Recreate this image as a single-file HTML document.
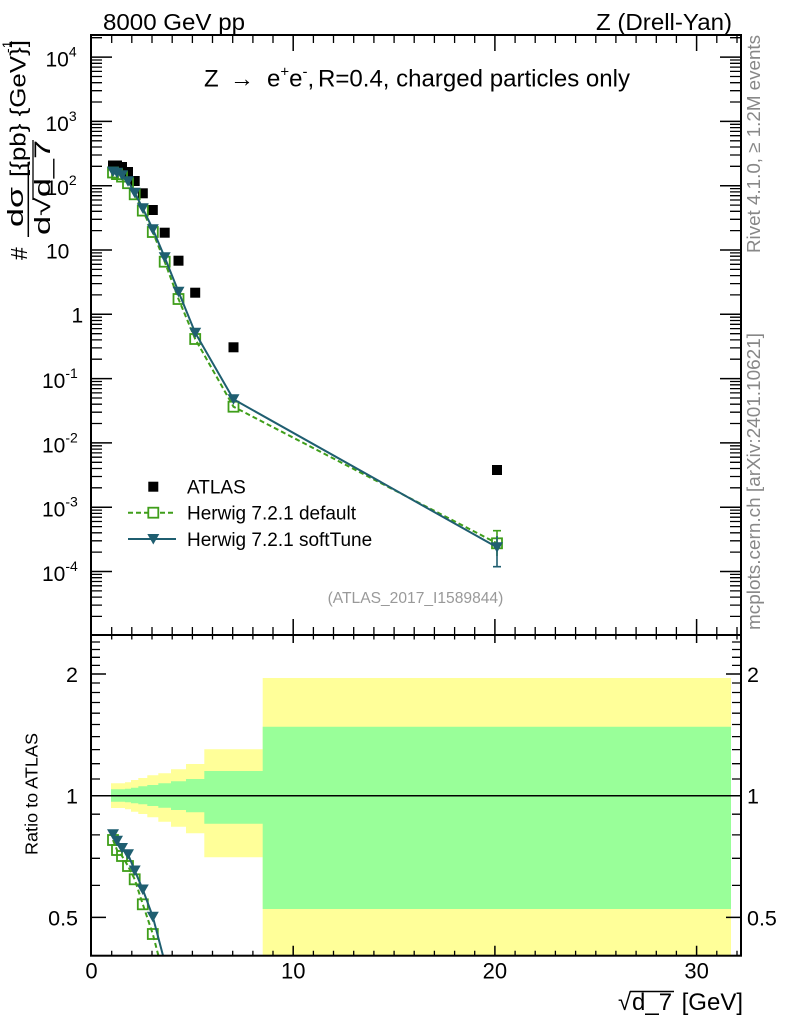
<!DOCTYPE html>
<html><head><meta charset="utf-8"><style>
html,body{margin:0;padding:0;background:#fff;}
svg{display:block;font-family:"Liberation Sans",Arial,sans-serif;}
</style></head><body>
<svg width="786" height="1024" viewBox="0 0 786 1024" xmlns="http://www.w3.org/2000/svg">
<defs>
<clipPath id="cm"><rect x="91" y="35" width="650" height="600"/></clipPath>
<clipPath id="cr"><rect x="91" y="635" width="650" height="320.7"/></clipPath>
</defs>
<rect width="786" height="1024" fill="#fff"/>

<!-- top labels -->
<text x="103" y="30" font-size="23" textLength="142" lengthAdjust="spacingAndGlyphs">8000 GeV pp</text>
<text x="596" y="30" font-size="23" textLength="136" lengthAdjust="spacingAndGlyphs">Z (Drell-Yan)</text>

<!-- title in plot -->
<text x="204" y="86.7" font-size="24">Z</text>
<text x="230" y="86.7" font-size="24">→</text>
<text x="267" y="86.7" font-size="24">e<tspan font-size="15" dy="-10">+</tspan><tspan font-size="24" dy="10">e</tspan><tspan font-size="15" dy="-10">-</tspan><tspan font-size="24" dy="10">,</tspan></text>
<text x="318" y="86.7" font-size="24" textLength="312" lengthAdjust="spacingAndGlyphs">R=0.4, charged particles only</text>

<!-- ratio bands -->
<path fill="#ffff99" d="M111 783.3 H125 V782.3 H131 V780 H138.3 V778 H147.3 V775.3 H158.3 V773.3 H171 V769.3 H186 V764 H204.3 V749.3 H262.7 V678 H731 V955.7 H262.7 V857.3 H204.3 V833.3 H186 V826.7 H171 V821.7 H158.3 V817.3 H147.3 V814 H138.3 V811.7 H131 V809.3 H125 V808 H111 Z"/>
<path fill="#99ff99" d="M111 789.3 H125 V788.7 H131 V787.7 H138.3 V786.3 H147.3 V785 H158.3 V783.3 H171 V781.3 H186 V779 H204.3 V771 H262.7 V726.7 H731 V909 H262.7 V823.7 H204.3 V812.3 H186 V810 H171 V807.7 H158.3 V806 H147.3 V804.3 H138.3 V803.3 H131 V802.3 H125 V801.7 H111 Z"/>
<path d="M91 795.7 H741" stroke="#000" stroke-width="1.5"/>

<!-- main plot data -->
<g clip-path="url(#cm)">
<g fill="#000">
<rect x="108" y="160.5" width="10" height="10"/>
<rect x="112" y="160.5" width="10" height="10"/>
<rect x="117" y="162" width="10" height="10"/>
<rect x="123" y="167" width="10" height="10"/>
<rect x="129.7" y="176" width="10" height="10"/>
<rect x="137.8" y="188.3" width="10" height="10"/>
<rect x="147.8" y="205" width="10" height="10"/>
<rect x="159.7" y="227.7" width="10" height="10"/>
<rect x="173.5" y="255.7" width="10" height="10"/>
<rect x="190.2" y="287.7" width="10" height="10"/>
<rect x="228.5" y="342.3" width="10" height="10"/>
<rect x="492" y="465" width="10" height="10"/>
</g>
<!-- default -->
<polyline fill="none" stroke="#3f9e1a" stroke-width="2" stroke-dasharray="5,3" points="113,172.5 117,174.1 122,176.6 128,183.2 134.7,194.3 142.8,210.6 152.8,232 164.7,261.7 178.5,299 195.2,339 233.5,406.7 497,543.3"/>
<path d="M497 530.7 V556 M493 530.7 H501" stroke="#3f9e1a" stroke-width="1.6"/>
<g fill="none" stroke="#3f9e1a" stroke-width="1.8">
<rect x="108" y="167.5" width="10" height="10"/>
<rect x="112" y="169.1" width="10" height="10"/>
<rect x="117" y="171.6" width="10" height="10"/>
<rect x="123" y="178.2" width="10" height="10"/>
<rect x="129.7" y="189.3" width="10" height="10"/>
<rect x="137.8" y="205.6" width="10" height="10"/>
<rect x="147.8" y="227" width="10" height="10"/>
<rect x="159.7" y="256.7" width="10" height="10"/>
<rect x="173.5" y="294" width="10" height="10"/>
<rect x="190.2" y="334" width="10" height="10"/>
<rect x="228.5" y="401.7" width="10" height="10"/>
<rect x="492" y="538.3" width="10" height="10"/>
</g>
<!-- softTune -->
<polyline fill="none" stroke="#1f5e70" stroke-width="2" points="113,171.6 117,172.7 122,175.3 128,181.3 134.7,192.8 142.8,208.3 152.8,229.2 164.7,257.3 178.5,291.7 195.2,332.7 233.5,399.3 497,547.3"/>
<path d="M497 536 V566.7 M493 566.7 H501" stroke="#1f5e70" stroke-width="1.6"/>
<g fill="#1f5e70">
<polygon points="107,166.6 119,166.6 113,177.1"/>
<polygon points="111,167.7 123,167.7 117,178.2"/>
<polygon points="116,170.3 128,170.3 122,180.8"/>
<polygon points="122,176.3 134,176.3 128,186.8"/>
<polygon points="128.7,187.8 140.7,187.8 134.7,198.3"/>
<polygon points="136.8,203.3 148.8,203.3 142.8,213.8"/>
<polygon points="146.8,224.2 158.8,224.2 152.8,234.7"/>
<polygon points="158.7,252.3 170.7,252.3 164.7,262.8"/>
<polygon points="172.5,286.7 184.5,286.7 178.5,297.2"/>
<polygon points="189.2,327.7 201.2,327.7 195.2,338.2"/>
<polygon points="227.5,394.3 239.5,394.3 233.5,404.8"/>
<polygon points="491,542.3 503,542.3 497,552.8"/>
</g>
</g>

<!-- ratio data -->
<g clip-path="url(#cr)">
<polyline fill="none" stroke="#3f9e1a" stroke-width="2" stroke-dasharray="5,3" points="113,840 117,850 122,856 128,866 134.7,879.3 142.8,904.3 152.8,934 164.7,980"/>
<g fill="none" stroke="#3f9e1a" stroke-width="1.8">
<rect x="108" y="835" width="10" height="10"/>
<rect x="112" y="845" width="10" height="10"/>
<rect x="117" y="851" width="10" height="10"/>
<rect x="123" y="861" width="10" height="10"/>
<rect x="129.7" y="874.3" width="10" height="10"/>
<rect x="137.8" y="899.3" width="10" height="10"/>
<rect x="147.8" y="929" width="10" height="10"/>
</g>
<polyline fill="none" stroke="#1f5e70" stroke-width="2" points="113,834.3 117,840.7 122,848 128,854.3 134.7,870.5 142.8,889.5 152.8,916.7 164.7,962"/>
<g fill="#1f5e70">
<polygon points="107,829.3 119,829.3 113,839.8"/>
<polygon points="111,835.7 123,835.7 117,846.2"/>
<polygon points="116,843 128,843 122,853.5"/>
<polygon points="122,849.3 134,849.3 128,859.8"/>
<polygon points="128.7,865.5 140.7,865.5 134.7,876"/>
<polygon points="136.8,884.5 148.8,884.5 142.8,895"/>
<polygon points="146.8,911.7 158.8,911.7 152.8,922.2"/>
</g>
</g>

<!-- legend -->
<rect x="148.3" y="481.7" width="10" height="10" fill="#000"/>
<text x="187" y="493.5" font-size="19">ATLAS</text>
<path d="M128 512.7 H176" stroke="#3f9e1a" stroke-width="2" stroke-dasharray="5,3"/>
<rect x="148.3" y="507.7" width="10" height="10" fill="#fff" stroke="#3f9e1a" stroke-width="1.8"/>
<text x="187" y="519.5" font-size="19">Herwig 7.2.1 default</text>
<path d="M128 539 H176" stroke="#1f5e70" stroke-width="2"/>
<polygon points="147.3,534 159.3,534 153.3,544.5" fill="#1f5e70"/>
<text x="187" y="546" font-size="19">Herwig 7.2.1 softTune</text>
<text x="503.3" y="603" font-size="15.6" fill="#999" text-anchor="end">(ATLAS_2017_I1589844)</text>

<!-- frames -->
<rect x="91" y="35" width="650" height="600" fill="none" stroke="#000" stroke-width="2"/>
<rect x="91" y="635" width="650" height="320.7" fill="none" stroke="#000" stroke-width="2"/>

<!-- main y ticks -->
<path stroke="#000" stroke-width="1.5" fill="none" d="M91 57.1h21M91 121.4h21M91 185.7h21M91 250h21M91 314.3h21M91 378.6h21M91 442.9h21M91 507.2h21M91 571.5h21
M741 57.1h-21M741 121.4h-21M741 185.7h-21M741 250h-21M741 314.3h-21M741 378.6h-21M741 442.9h-21M741 507.2h-21M741 571.5h-21"/>
<path stroke="#000" stroke-width="1.3" fill="none" d="M91 37.7h11M91 102h11M91 90.7h11M91 82.7h11M91 76.5h11M91 71.4h11M91 67.1h11M91 63.3h11M91 60h11
M91 166.3h11M91 155h11M91 147h11M91 140.8h11M91 135.7h11M91 131.4h11M91 127.6h11M91 124.3h11
M91 230.6h11M91 219.3h11M91 211.3h11M91 205.1h11M91 200h11M91 195.7h11M91 191.9h11M91 188.6h11
M91 294.9h11M91 283.6h11M91 275.6h11M91 269.4h11M91 264.3h11M91 260h11M91 256.2h11M91 252.9h11
M91 359.2h11M91 347.9h11M91 339.9h11M91 333.7h11M91 328.6h11M91 324.3h11M91 320.5h11M91 317.2h11
M91 423.5h11M91 412.2h11M91 404.2h11M91 398h11M91 392.9h11M91 388.6h11M91 384.8h11M91 381.5h11
M91 487.8h11M91 476.5h11M91 468.5h11M91 462.3h11M91 457.2h11M91 452.9h11M91 449.1h11M91 445.8h11
M91 552.1h11M91 540.8h11M91 532.8h11M91 526.6h11M91 521.5h11M91 517.2h11M91 513.4h11M91 510.1h11
M91 616.4h11M91 605.1h11M91 597.1h11M91 590.9h11M91 585.8h11M91 581.5h11M91 577.7h11M91 574.4h11
M741 37.7h-11M741 102h-11M741 90.7h-11M741 82.7h-11M741 76.5h-11M741 71.4h-11M741 67.1h-11M741 63.3h-11M741 60h-11
M741 166.3h-11M741 155h-11M741 147h-11M741 140.8h-11M741 135.7h-11M741 131.4h-11M741 127.6h-11M741 124.3h-11
M741 230.6h-11M741 219.3h-11M741 211.3h-11M741 205.1h-11M741 200h-11M741 195.7h-11M741 191.9h-11M741 188.6h-11
M741 294.9h-11M741 283.6h-11M741 275.6h-11M741 269.4h-11M741 264.3h-11M741 260h-11M741 256.2h-11M741 252.9h-11
M741 359.2h-11M741 347.9h-11M741 339.9h-11M741 333.7h-11M741 328.6h-11M741 324.3h-11M741 320.5h-11M741 317.2h-11
M741 423.5h-11M741 412.2h-11M741 404.2h-11M741 398h-11M741 392.9h-11M741 388.6h-11M741 384.8h-11M741 381.5h-11
M741 487.8h-11M741 476.5h-11M741 468.5h-11M741 462.3h-11M741 457.2h-11M741 452.9h-11M741 449.1h-11M741 445.8h-11
M741 552.1h-11M741 540.8h-11M741 532.8h-11M741 526.6h-11M741 521.5h-11M741 517.2h-11M741 513.4h-11M741 510.1h-11
M741 616.4h-11M741 605.1h-11M741 597.1h-11M741 590.9h-11M741 585.8h-11M741 581.5h-11M741 577.7h-11M741 574.4h-11"/>

<!-- x ticks: main top (down), main bottom (up), ratio top (down), ratio bottom (up) -->
<path stroke="#000" stroke-width="1.5" fill="none" d="M293.2 35v16M494.9 35v16M696.6 35v16
M293.2 635v-16M494.9 635v-16M696.6 635v-16
M293.2 635v8M494.9 635v8M696.6 635v8
M293.2 955.7v-10M494.9 955.7v-10M696.6 955.7v-10"/>
<path stroke="#000" stroke-width="1.3" fill="none" d="M111.7 35v8M131.8 35v8M152 35v8M172.2 35v8M192.4 35v8M212.5 35v8M232.7 35v8M252.9 35v8M273 35v8M313.4 35v8M333.5 35v8M353.7 35v8M373.9 35v8M394.1 35v8M414.2 35v8M434.4 35v8M454.6 35v8M474.7 35v8M515.1 35v8M535.2 35v8M555.4 35v8M575.6 35v8M595.8 35v8M615.9 35v8M636.1 35v8M656.3 35v8M676.4 35v8M716.8 35v8M737 35v8
M111.7 635v-8M131.8 635v-8M152 635v-8M172.2 635v-8M192.4 635v-8M212.5 635v-8M232.7 635v-8M252.9 635v-8M273 635v-8M313.4 635v-8M333.5 635v-8M353.7 635v-8M373.9 635v-8M394.1 635v-8M414.2 635v-8M434.4 635v-8M454.6 635v-8M474.7 635v-8M515.1 635v-8M535.2 635v-8M555.4 635v-8M575.6 635v-8M595.8 635v-8M615.9 635v-8M636.1 635v-8M656.3 635v-8M676.4 635v-8M716.8 635v-8M737 635v-8
M111.7 635v4.5M131.8 635v4.5M152 635v4.5M172.2 635v4.5M192.4 635v4.5M212.5 635v4.5M232.7 635v4.5M252.9 635v4.5M273 635v4.5M313.4 635v4.5M333.5 635v4.5M353.7 635v4.5M373.9 635v4.5M394.1 635v4.5M414.2 635v4.5M434.4 635v4.5M454.6 635v4.5M474.7 635v4.5M515.1 635v4.5M535.2 635v4.5M555.4 635v4.5M575.6 635v4.5M595.8 635v4.5M615.9 635v4.5M636.1 635v4.5M656.3 635v4.5M676.4 635v4.5M716.8 635v4.5M737 635v4.5
M111.7 955.7v-5M131.8 955.7v-5M152 955.7v-5M172.2 955.7v-5M192.4 955.7v-5M212.5 955.7v-5M232.7 955.7v-5M252.9 955.7v-5M273 955.7v-5M313.4 955.7v-5M333.5 955.7v-5M353.7 955.7v-5M373.9 955.7v-5M394.1 955.7v-5M414.2 955.7v-5M434.4 955.7v-5M454.6 955.7v-5M474.7 955.7v-5M515.1 955.7v-5M535.2 955.7v-5M555.4 955.7v-5M575.6 955.7v-5M595.8 955.7v-5M615.9 955.7v-5M636.1 955.7v-5M656.3 955.7v-5M676.4 955.7v-5M716.8 955.7v-5M737 955.7v-5"/>

<!-- ratio y ticks -->
<path stroke="#000" stroke-width="1.5" fill="none" d="M91 674h15M91 795.7h15M91 917.4h15M741 674h-15M741 795.7h-15M741 917.4h-15"/>
<path stroke="#000" stroke-width="1.3" fill="none" d="M91 642h9M91 649.5h9M91 657.3h9M91 665.4h9M91 683h9M91 692.5h9M91 702.5h9M91 713.2h9M91 724.5h9M91 736.6h9M91 749.6h9M91 763.7h9M91 779h9M91 814.2h9M91 834.9h9M91 858.3h9M91 885.4h9
M741 642h-9M741 649.5h-9M741 657.3h-9M741 665.4h-9M741 683h-9M741 692.5h-9M741 702.5h-9M741 713.2h-9M741 724.5h-9M741 736.6h-9M741 749.6h-9M741 763.7h-9M741 779h-9M741 814.2h-9M741 834.9h-9M741 858.3h-9M741 885.4h-9"/>

<!-- main y labels -->
<g font-size="21">
<text x="45.5" y="66.6">10<tspan font-size="14" dy="-10">4</tspan></text>
<text x="45.5" y="130.9">10<tspan font-size="14" dy="-10">3</tspan></text>
<text x="45.5" y="195.2">10<tspan font-size="14" dy="-10">2</tspan></text>
<text x="46" y="258.5">10</text>
<text x="71.5" y="322.5">1</text>
<text x="42" y="388.1">10<tspan font-size="14" dy="-10">-1</tspan></text>
<text x="42" y="452.4">10<tspan font-size="14" dy="-10">-2</tspan></text>
<text x="42" y="516.7">10<tspan font-size="14" dy="-10">-3</tspan></text>
<text x="42" y="581">10<tspan font-size="14" dy="-10">-4</tspan></text>
</g>

<!-- ratio labels -->
<g font-size="21.5">
<text x="78" y="682" text-anchor="end">2</text>
<text x="78" y="803.7" text-anchor="end">1</text>
<text x="78" y="925.4" text-anchor="end">0.5</text>
<text x="747" y="682">2</text>
<text x="747" y="803.7">1</text>
<text x="747" y="925.4">0.5</text>
</g>

<!-- x labels -->
<g font-size="22" text-anchor="middle">
<text x="91.5" y="978.3">0</text>
<text x="293.2" y="978.3">10</text>
<text x="494.9" y="978.3">20</text>
<text x="696.6" y="978.3">30</text>
</g>

<!-- x axis title -->
<text x="618" y="1010" font-size="24">√</text>
<path d="M630 991.5 H674" stroke="#000" stroke-width="1.5"/>
<text x="632" y="1010" font-size="24">d_7</text>
<text x="743" y="1010" font-size="24" text-anchor="end">[GeV]</text>

<!-- main y title (rotated) -->
<g transform="rotate(-90)">
<text x="-260" y="27" font-size="23">#</text>
<text x="-227" y="23" font-size="22" textLength="40" lengthAdjust="spacingAndGlyphs">dσ</text>
<text x="-235" y="50" font-size="22" textLength="95" lengthAdjust="spacingAndGlyphs">d√d_7</text>
<text x="-177" y="25.5" font-size="22" textLength="137" lengthAdjust="spacingAndGlyphs">[{pb} {GeV}]</text>
<text x="-53" y="12" font-size="14">-1</text>
<text x="-855" y="37.3" font-size="17.7" textLength="122" lengthAdjust="spacingAndGlyphs">Ratio to ATLAS</text>
<text x="-253" y="760" font-size="18.7" fill="#888" textLength="218" lengthAdjust="spacingAndGlyphs">Rivet 4.1.0, ≥ 1.2M events</text>
<text x="-630" y="760" font-size="18.7" fill="#888" textLength="297" lengthAdjust="spacingAndGlyphs">mcplots.cern.ch [arXiv:2401.10621]</text>
</g>
<path d="M28.3 162 V237" stroke="#000" stroke-width="1.5"/>
<path d="M33 140 V200" stroke="#000" stroke-width="1.3"/>
</svg>
</body></html>
